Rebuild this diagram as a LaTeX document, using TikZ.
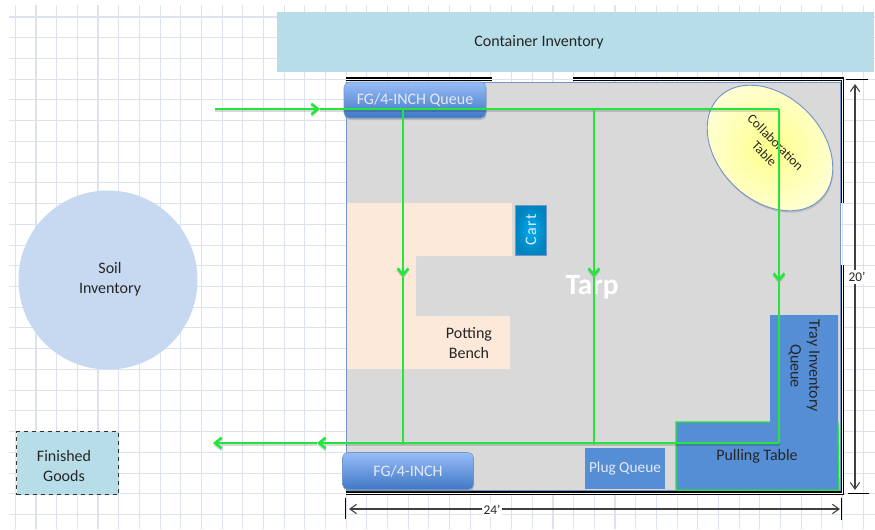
\documentclass[tikz,border=0pt]{standalone}
\usepackage{fontspec}
\setmainfont{Carlito}
\usetikzlibrary{shapes.geometric,arrows.meta,shadows}
\definecolor{gridline}{HTML}{DDE2EF}
\definecolor{contbg}{HTML}{B7DDE8}
\definecolor{tarpbg}{HTML}{D9D9D9}
\definecolor{benchbg}{HTML}{FDE9D9}
\definecolor{soilbg}{HTML}{C6D9F1}
\definecolor{blockbg}{HTML}{558ED5}
\definecolor{flow}{HTML}{22E63C}
\definecolor{edgeblue}{HTML}{7396C8}
\definecolor{queuetop}{HTML}{98BCF7}
\definecolor{queuebot}{HTML}{3F78C6}
\definecolor{querytxt}{HTML}{E3EAF6}
\definecolor{cartin}{HTML}{00ACEC}
\definecolor{cartout}{HTML}{0083BE}
\definecolor{collabin}{HTML}{FFFF8C}
\definecolor{collabout}{HTML}{FFFFD6}
\tikzset{
  gridLn/.style={draw=gridline, line width=0.8pt},
  wallLn/.style={draw=black, line width=0.8pt, double=white, double distance=0.7pt},
  flowLn/.style={draw=flow, line width=1.9pt,
    preaction={draw=black, opacity=.15, line width=1.9pt, transform canvas={yshift=-1.3pt}}},
  flowArr/.style={flowLn, -{Straight Barb[length=5pt,width=8pt]}},
  dimLn/.style={draw=black!75, line width=0.8pt, {Straight Barb[length=5pt,width=7pt]}-{Straight Barb[length=5pt,width=7pt]}},
  tickLn/.style={draw=black, line width=0.7pt},
  lbl/.style={font=\fontsize{12}{14}\selectfont, text=black!85, align=center},
  dimLbl/.style={fill=white, inner sep=1.5pt, font=\fontsize{10}{12}\selectfont, text=black!85},
  queueBox/.style={rounded corners=4pt, draw=edgeblue, top color=queuetop, bottom color=queuebot,
    text=querytxt, font=\fontsize{12}{14}\selectfont, drop shadow={shadow xshift=0.5pt,shadow yshift=-1.5pt,opacity=.35}, inner sep=0pt},
}
\begin{document}
\begin{tikzpicture}[x=0.75pt,y=-0.75pt]
  \useasboundingbox (0,0) rectangle (875,529);

  % grid paper
  \foreach \i in {0,...,41} {
    \draw[gridLn] ({15.3+20.68*\i},5) -- ({15.3+20.68*\i},529);
  }
  \foreach \j in {0,...,24} {
    \draw[gridLn] (9,{17+20.73*\j}) -- (875,{17+20.73*\j});
  }

  \node[fill=contbg, minimum width=597*0.75pt, minimum height=60*0.75pt, inner sep=0pt] (container) at (575.5,41.5) {};
  \node[lbl] (containerlbl) at (539,42.5) {Container Inventory};

  % tarp
  \node[fill=tarpbg, draw=edgeblue, line width=0.6pt, minimum width=494*0.75pt, minimum height=408*0.75pt, inner sep=0pt] (tarp) at (593,286) {};
  \coordinate (wallA) at (346,79);
  \coordinate (wallG) at (492,79);
  \coordinate (wallH) at (573,79);
  \coordinate (wallB) at (842.5,79);
  \coordinate (wallC) at (842.5,203);
  \coordinate (wallD) at (842.5,265);
  \coordinate (wallE) at (842.5,493);
  \coordinate (wallF) at (346,493);
  \draw[wallLn] (wallA) -- (wallG);
  \draw[wallLn] (wallH) -- (wallB) -- (wallC);
  \draw[wallLn] (wallD) -- (wallE) -- (wallF);

  \fill[benchbg] (347,203) -- (512,203) -- (512,256) -- (416,256) -- (416,316) -- (510,316) -- (510,369) -- (347,369) -- cycle;
  \node[lbl] (bench) at (469,343) {Potting\\[1pt]Bench};
  \node[text=white, font=\bfseries\fontsize{22}{24}\selectfont] (tarplbl) at (592,287) {Tarp};

  \node[draw=edgeblue, inner color=cartin, outer color=cartout, text=querytxt, rotate=90, minimum width=50*0.75pt, minimum height=31*0.75pt, inner sep=0pt, font=\addfontfeature{LetterSpace=8}\fontsize{12}{14}\selectfont, line width=0.6pt] (cart) at (531,230) {Cart};

  \node[ellipse, draw=edgeblue, line width=0.7pt, inner color=collabin, outer color=collabout, minimum width=144*0.75pt, minimum height=104*0.75pt, inner sep=0pt, rotate=-45, drop shadow={shadow xshift=0.5pt,shadow yshift=-1.5pt,opacity=.3}] (collab) at (770,148) {};
  \node[lbl, rotate=-45, font=\fontsize{10}{12}\selectfont] (collablbl) at (770,148) {Collaboration\\Table};

  % pulling table and tray queue
  \fill[blockbg] (770,315) -- (838,315) -- (838,422) -- (839,490) -- (676,490) -- (676,422) -- (770,422) -- cycle;
  \draw[flow, line width=1pt] (838,422) -- (839,490) -- (676,490) -- (676,422) -- (770,422);
  \node[lbl, rotate=-90] (tray) at (804,366) {Tray Inventory\\Queue};
  \node[lbl] (pulling) at (757,456) {Pulling Table};
  \node[fill=blockbg, inner sep=0pt, font=\fontsize{11.5}{14}\selectfont, text=querytxt, minimum width=80*0.75pt, minimum height=41*0.75pt] (plug) at (625,468) {Plug Queue};

  \node[circle, fill=soilbg, minimum size=179*0.75pt, inner sep=0pt] (soil) at (108,280) {};
  \node[lbl] (soillbl) at (110,279) {Soil\\[1pt]Inventory};
  \node[fill=contbg, draw=black!80, dashed, line width=0.8pt, minimum width=102*0.75pt, minimum height=63*0.75pt, inner sep=0pt] (goods) at (67.5,463) {};
  \node[lbl] (goodslbl) at (64,466) {Finished\\[1pt]Goods};

  \node[queueBox, minimum width=142*0.75pt, minimum height=36*0.75pt] (fgq) at (415,100) {FG/4-INCH Queue};
  \node[queueBox, minimum width=131*0.75pt, minimum height=37*0.75pt] (fg) at (408,471) {FG/4-INCH};

  % flow lines
  \coordinate (inS) at (215,109);
  \coordinate (inM) at (320,109);
  \coordinate (dropA) at (403,109);
  \coordinate (dropB) at (594,109);
  \coordinate (dropC) at (779,109);
  \coordinate (midA) at (403,277);
  \coordinate (midB) at (594,277);
  \coordinate (midC) at (779,282);
  \coordinate (botA) at (403,443);
  \coordinate (botB) at (594,443);
  \coordinate (botC) at (779,443);
  \coordinate (outM) at (317,443);
  \coordinate (outE) at (213,443);
  \draw[flowArr] (inS) -- (inM);
  \draw[flowLn] (inM) -- (dropC);
  \draw[flowArr] (dropA) -- (midA);
  \draw[flowLn] (midA) -- (botA);
  \draw[flowArr] (dropB) -- (midB);
  \draw[flowLn] (midB) -- (botB);
  \draw[flowArr] (dropC) -- (midC);
  \draw[flowLn] (midC) -- (botC);
  \draw[flowArr] (botC) -- (outM);
  \draw[flowArr] (outM) -- (outE);

  % dimensions
  \coordinate (dimT) at (855,84);
  \coordinate (dimB) at (855,490);
  \coordinate (dimL) at (349,509);
  \coordinate (dimR) at (840,509);
  \draw[dimLn] (dimT) -- (dimB);
  \draw[dimLn] (dimL) -- (dimR);
  \draw[tickLn] (846,79) -- (868,79);
  \draw[tickLn] (848,493) -- (869,493);
  \draw[tickLn] (345,498) -- (345,519);
  \draw[tickLn] (841,498) -- (841,520);
  \node[dimLbl] (dimH) at (857,277) {20'};
  \node[dimLbl] (dimW) at (492,510) {24'};
\end{tikzpicture}
\end{document}
